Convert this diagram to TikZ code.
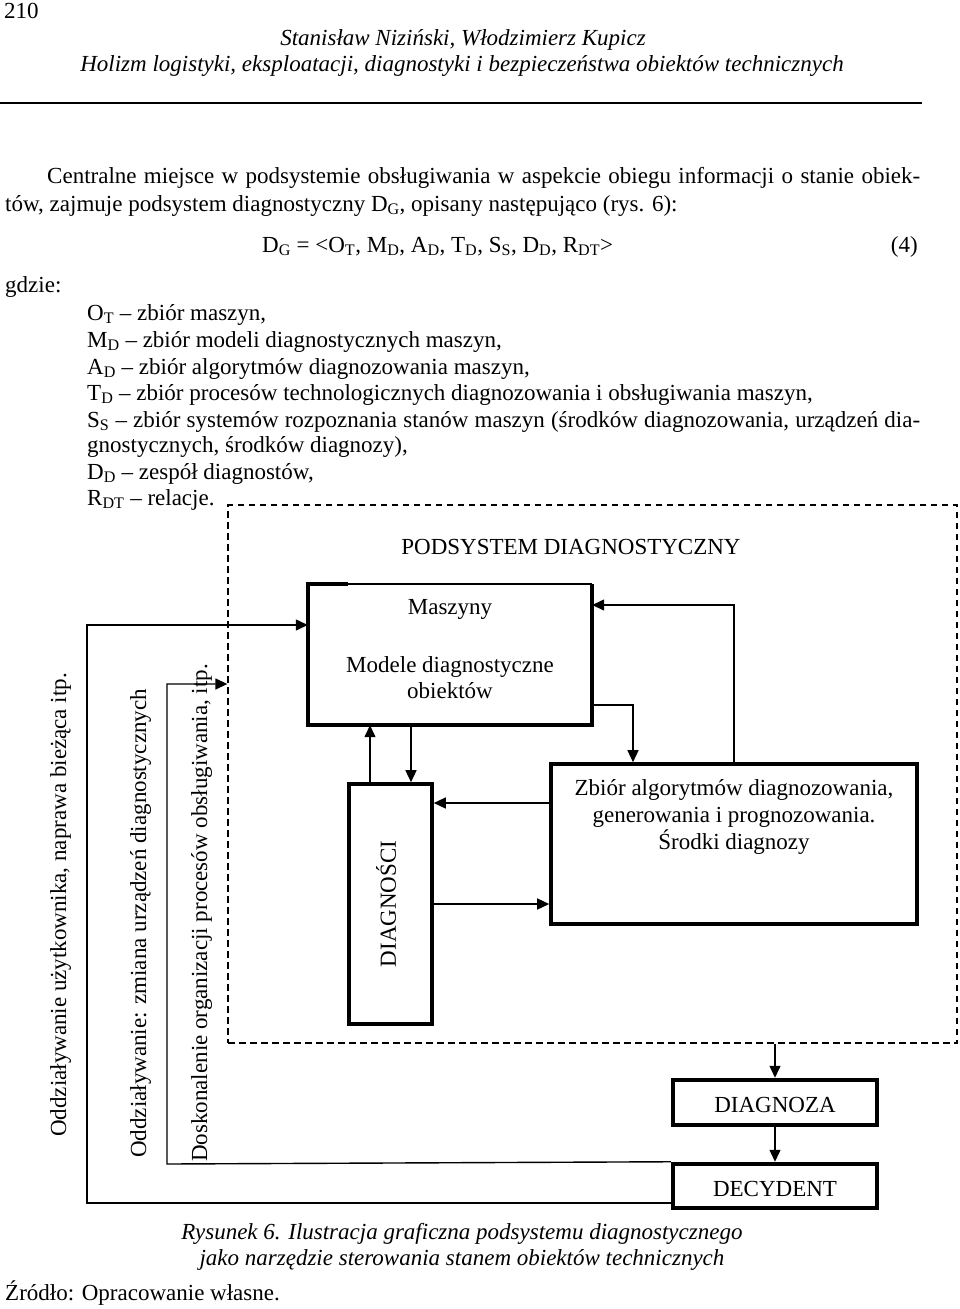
\documentclass[tikz,border=0pt]{standalone}
\usepackage{fontspec}
\setmainfont{Liberation Serif}
\usetikzlibrary{arrows.meta}
\newcommand{\sbx}[1]{\textsubscript{#1}}
\begin{document}
\begin{tikzpicture}[x=1pt,y=-1pt,
  txt/.style={inner sep=0pt, font=\fontsize{23}{26.7}\selectfont},
  itxt/.style={inner sep=0pt, font=\fontsize{23}{26}\selectfont\itshape},
  thickbox/.style={draw, line width=3.6pt, inner sep=0pt},
  heavybox/.style={draw, line width=4.5pt, inner sep=0pt},
  conn/.style={line width=1.4pt},
  arr/.style={conn, -{Triangle[length=12pt,width=11pt]}},
  dashbox/.style={draw, line width=1.3pt, dash pattern=on 6.5pt off 4.5pt, inner sep=0pt}
]
\useasboundingbox (0,0) rectangle (960,1309);
\fill[white] (0,0) rectangle (960,1309);

% header
\node[txt, anchor=base west] (pg) at (4,18) {210};
\node[itxt, anchor=base] (au) at (463,45) {Stanisław Niziński, Włodzimierz Kupicz};
\node[itxt, anchor=base] (ti) at (462,71) {Holizm logistyki, eksploatacji, diagnostyki i bezpieczeństwa obiektów technicznych};
\coordinate (r1) at (0,103);
\coordinate (r2) at (922,103);
\draw[line width=1.2pt] (r1) -- (r2);

% body text
\node[txt, anchor=base west] (l1) at (47,183) {\makebox[873pt][s]{Centralne miejsce w podsystemie obsługiwania w aspekcie obiegu informacji o stanie obiek-}};
\node[txt, anchor=base west] (l2) at (5,211) {tów, zajmuje podsystem diagnostyczny D\sbx{G}, opisany następująco (rys. 6):};
\node[txt, anchor=base west] (eq) at (262,252) {D\sbx{G} = <O\sbx{T}, M\sbx{D}, A\sbx{D}, T\sbx{D}, S\sbx{S}, D\sbx{D}, R\sbx{DT}>};
\node[txt, anchor=base east] (eqn) at (918,252) {(4)};
\node[txt, anchor=base west] (gd) at (5,292) {gdzie:};
\node[txt, anchor=base west] (i1) at (87,320) {O\sbx{T} – zbiór maszyn,};
\node[txt, anchor=base west] (i2) at (87,347) {M\sbx{D} – zbiór modeli diagnostycznych maszyn,};
\node[txt, anchor=base west] (i3) at (87,374) {A\sbx{D} – zbiór algorytmów diagnozowania maszyn,};
\node[txt, anchor=base west] (i4) at (87,400) {T\sbx{D} – zbiór procesów technologicznych diagnozowania i obsługiwania maszyn,};
\node[txt, anchor=base west] (i5) at (87,427) {\makebox[833pt][s]{S\sbx{S} – zbiór systemów rozpoznania stanów maszyn (środków diagnozowania, urządzeń dia-}};
\node[txt, anchor=base west] (i6) at (87,452) {gnostycznych, środków diagnozy),};
\node[txt, anchor=base west] (i7) at (87,479) {D\sbx{D} – zespół diagnostów,};
\node[txt, anchor=base west] (i8) at (87,505) {R\sbx{DT} – relacje.};

% diagram
\node[dashbox, minimum width=729pt, minimum height=538pt] (pod) at (592.5,774) {};
\node[txt] (podT) at (571,547) {PODSYSTEM DIAGNOSTYCZNY};

\node[inner sep=0pt, minimum width=284pt, minimum height=141pt] (mas) at (450,654.5) {};
\draw[line width=1.5pt] (mas.north west) -- (mas.north east);
\draw[line width=3.6pt] ([xshift=40pt]mas.north west) -- (mas.north west) -- (mas.south west) -- (mas.south east) -- (mas.north east);
\node[txt] (masT) at (450,609) {Maszyny};
\node[txt, align=center] (masM) at (450,677.5) {Modele diagnostyczne\\obiektów};

\node[thickbox, minimum width=83pt, minimum height=240pt] (dgc) at (390.5,904) {};
\node[txt, rotate=90] (dgcT) at (386,904) {DIAGNOŚCI};

\node[thickbox, minimum width=366pt, minimum height=160pt] (zb) at (734,844) {};
\node[txt, align=center] (zbT) at (734,817) {Zbiór algorytmów diagnozowania,\\generowania i prognozowania.\\Środki diagnozy};

\node[heavybox, minimum width=204pt, minimum height=45pt] (dgz) at (775,1102.5) {};
\node[txt] (dgzT) at (775,1105) {DIAGNOZA};
\node[heavybox, minimum width=204pt, minimum height=44pt] (dcy) at (775,1186) {};
\node[txt] (dcyT) at (775,1189) {DECYDENT};

% side texts
\node[txt, rotate=90, anchor=base west] (s1) at (66,1137) {Oddziaływanie użytkownika, naprawa bieżąca itp.};
\node[txt, rotate=90, anchor=base west] (s2) at (146,1158) {Oddziaływanie: zmiana urządzeń diagnostycznych};
\node[txt, rotate=90, anchor=base west] (s3) at (207,1162) {Doskonalenie organizacji procesów obsługiwania, itp.};

% helper coordinates
\coordinate (c1) at (87,1203);
\coordinate (c1b) at (87,625);
\coordinate (c2) at (167,1164);
\coordinate (c2b) at (167,684);
\coordinate (x370) at (370,0);
\coordinate (x411) at (411,0);
\coordinate (x633) at (633,0);
\coordinate (y803) at (0,803);
\coordinate (y904) at (0,904);
\coordinate (y705) at (0,705);
\coordinate (y605) at (0,605);

% connectors
\draw[arr] (dcy.west |- c1) -- (c1) -- (c1b) -- (mas.west |- c1b);
\draw[arr] (dcy.north west) -- (c2) -- (c2b) -- (pod.west |- c2b);
\draw[arr] (mas.south -| x411) -- (dgc.north -| x411);
\draw[arr] (dgc.north -| x370) -- (mas.south -| x370);
\draw[arr] (zb.west |- y803) -- (dgc.east |- y803);
\draw[arr] (dgc.east |- y904) -- (zb.west |- y904);
\draw[arr] (mas.east |- y705) -| (zb.north -| x633);
\draw[arr] (zb.north) |- (mas.east |- y605);
\draw[arr] (dgz.north |- pod.south) -- (dgz.north);
\draw[arr] (dgz.south) -- (dcy.north);

% caption
\node[itxt, anchor=base] (cap1) at (462,1239) {Rysunek 6. Ilustracja graficzna podsystemu diagnostycznego};
\node[itxt, anchor=base] (cap2) at (462,1265) {jako narzędzie sterowania stanem obiektów technicznych};
\node[txt, anchor=base west] (src) at (5,1300) {Źródło: Opracowanie własne.};
\end{tikzpicture}
\end{document}
